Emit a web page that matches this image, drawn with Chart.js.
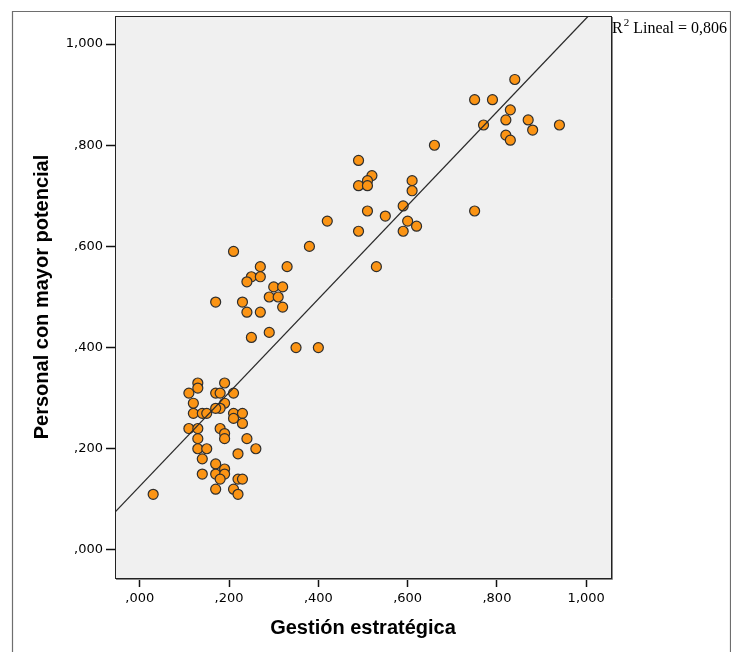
<!DOCTYPE html>
<html>
<head>
<meta charset="utf-8">
<script src="https://cdn.jsdelivr.net/npm/chart.js@4"></script>
<style>
  html, body { margin: 0; padding: 0; background: #fff; }
  #wrap { width: 731px; height: 652px; position: relative; }
</style>
</head>
<body>
<div id="wrap"><canvas id="scatter-chart"></canvas></div>
<script>
// Gestión estratégica (x) vs Personal con mayor potencial (y)
let gestionX = [
    0.13, 0.13, 0.11, 0.19, 0.17, 0.18, 0.21, 0.12, 0.12, 0.14, 0.15, 0.19, 0.18, 0.17,
    0.21, 0.23, 0.21, 0.23, 0.11, 0.13, 0.18, 0.19, 0.19, 0.13, 0.24, 0.13, 0.15, 0.26,
    0.22, 0.14, 0.17, 0.19, 0.17, 0.14, 0.19, 0.18, 0.22, 0.23, 0.17, 0.21, 0.22, 0.03,
    0.21, 0.38, 0.27, 0.33, 0.25, 0.27, 0.24, 0.30, 0.32, 0.29, 0.31, 0.17, 0.23, 0.24,
    0.27, 0.32, 0.29, 0.25, 0.35, 0.40,
    0.66, 0.49, 0.52, 0.51, 0.49, 0.51, 0.61, 0.61, 0.59, 0.51, 0.55, 0.42, 0.60, 0.62,
    0.59, 0.49, 0.53,
    0.84, 0.75, 0.79, 0.83, 0.82, 0.77, 0.87, 0.88, 0.82, 0.83, 0.94, 0.75
];
let personalY = [
    0.33, 0.32, 0.31, 0.33, 0.31, 0.31, 0.31, 0.29, 0.27, 0.27, 0.27, 0.29, 0.28, 0.28,
    0.27, 0.27, 0.26, 0.25, 0.24, 0.24, 0.24, 0.23, 0.22, 0.22, 0.22, 0.20, 0.20, 0.20,
    0.19, 0.18, 0.17, 0.16, 0.15, 0.15, 0.15, 0.14, 0.14, 0.14, 0.12, 0.12, 0.11, 0.11,
    0.59, 0.60, 0.56, 0.56, 0.54, 0.54, 0.53, 0.52, 0.52, 0.50, 0.50, 0.49, 0.49, 0.47,
    0.47, 0.48, 0.43, 0.42, 0.40, 0.40,
    0.80, 0.77, 0.74, 0.73, 0.72, 0.72, 0.73, 0.71, 0.68, 0.67, 0.66, 0.65, 0.65, 0.64,
    0.63, 0.63, 0.56,
    0.93, 0.89, 0.89, 0.87, 0.85, 0.84, 0.85, 0.83, 0.82, 0.81, 0.84, 0.67
];

// tick values shared by both axes
let tickValues = [0, 0.2, 0.4, 0.6, 0.8, 1.0];
let axisMin = -0.0555;
let axisMax = 1.0555;

// linear fit line
let fitIntercept = 0.126;
let fitSlope = 0.925;
let fitLabel = 'Lineal = 0,806';

let xTitle = 'Gestión estratégica';
let yTitle = 'Personal con mayor potencial';

let points = gestionX.map((x, i) => ({ x: x, y: personalY[i] }));
let fitLine = [axisMin, axisMax].map(x => ({ x: x, y: fitIntercept + fitSlope * x }));

// ",200" style labels
function spssTick(v) {
    let s = v.toFixed(3).replace('.', ',');
    return s.startsWith('0') ? s.slice(1) : s;
}

let plotFrame = {
    id: 'plotFrame',
    beforeDatasetsDraw(chart) {
        let a = chart.chartArea, c = chart.ctx;
        c.save();
        c.fillStyle = '#f0f0f0';
        c.fillRect(a.left, a.top, a.right - a.left, a.bottom - a.top);
        c.restore();
    },
    afterDatasetsDraw(chart) {
        let a = chart.chartArea, c = chart.ctx;
        c.save();
        c.strokeStyle = '#8a8a8a';
        c.lineWidth = 1;
        c.beginPath();
        c.moveTo(a.right + 1.5, a.top + 1);
        c.lineTo(a.right + 1.5, a.bottom + 1.5);
        c.lineTo(a.left + 1, a.bottom + 1.5);
        c.stroke();
        c.strokeStyle = '#222';
        c.strokeRect(a.left + 0.5, a.top + 0.5, a.right - a.left, a.bottom - a.top);
        c.restore();
    },
    afterDraw(chart) {
        let a = chart.chartArea, c = chart.ctx;
        c.save();
        // outer frame
        c.strokeStyle = '#6e6e6e';
        c.lineWidth = 1.2;
        c.beginPath();
        c.moveTo(12.5, chart.height);
        c.lineTo(12.5, 11.5);
        c.lineTo(730.5, 11.5);
        c.lineTo(730.5, chart.height);
        c.stroke();
        // R² label
        c.fillStyle = '#000';
        c.textBaseline = 'alphabetic';
        let x0 = a.right + 1, base = 33;
        c.font = '16px "Liberation Serif", "Times New Roman", serif';
        c.fillText('R', x0, base);
        let w = c.measureText('R').width;
        c.font = '11px "Liberation Serif", "Times New Roman", serif';
        c.fillText('2', x0 + w + 1, base - 7);
        let w2 = c.measureText('2').width;
        c.font = '16px "Liberation Serif", "Times New Roman", serif';
        c.fillText(fitLabel, x0 + w + w2 + 5, base);
        c.restore();
    }
};

let tickFont = { family: '"DejaVu Sans", Tahoma, sans-serif', size: 13 };
let titleFont = { family: '"Liberation Sans", Arial, sans-serif', size: 20, weight: 'bold' };

let ctx = document.getElementById('scatter-chart').getContext('2d');

let scatterChart = new Chart(ctx, {
    type: 'scatter',
    data: {
        datasets: [{
            data: fitLine,
            showLine: true,
            borderColor: '#2a2a2a',
            borderWidth: 1.3,
            pointRadius: 0,
            order: 0
        }, {
            data: points,
            backgroundColor: '#fb9414',
            borderColor: '#2e2e2e',
            borderWidth: 1.2,
            pointRadius: 5,
            order: 1
        }]
    },
    options: {
        responsive: true,
        maintainAspectRatio: false,
        animation: false,
        layout: { padding: { left: 0, right: 120, top: 16, bottom: 0 } },
        scales: {
            x: {
                type: 'linear',
                min: axisMin,
                max: axisMax,
                afterBuildTicks: s => { s.ticks = tickValues.map(v => ({ value: v })); },
                afterFit: s => { s.height = 74; },
                ticks: { font: tickFont, color: '#000', padding: 4, maxRotation: 0, callback: v => spssTick(v) },
                grid: { drawOnChartArea: false, tickLength: 9, tickColor: '#111', tickWidth: 1.5 },
                border: { display: false },
                title: { display: true, text: xTitle, font: titleFont, color: '#000', padding: { top: 0, bottom: 12 } }
            },
            y: {
                type: 'linear',
                min: axisMin,
                max: axisMax,
                afterBuildTicks: s => { s.ticks = tickValues.map(v => ({ value: v })); },
                afterFit: s => { s.width = 115; },
                ticks: { font: tickFont, color: '#000', padding: 3, callback: v => spssTick(v) },
                grid: { drawOnChartArea: false, tickLength: 9, tickColor: '#111', tickWidth: 1.5 },
                border: { display: false },
                title: { display: true, text: yTitle, font: titleFont, color: '#000', padding: { top: 30, bottom: 0 } }
            }
        },
        plugins: {
            legend: { display: false },
            tooltip: { enabled: false }
        }
    },
    plugins: [plotFrame]
});
</script>
</body>
</html>
